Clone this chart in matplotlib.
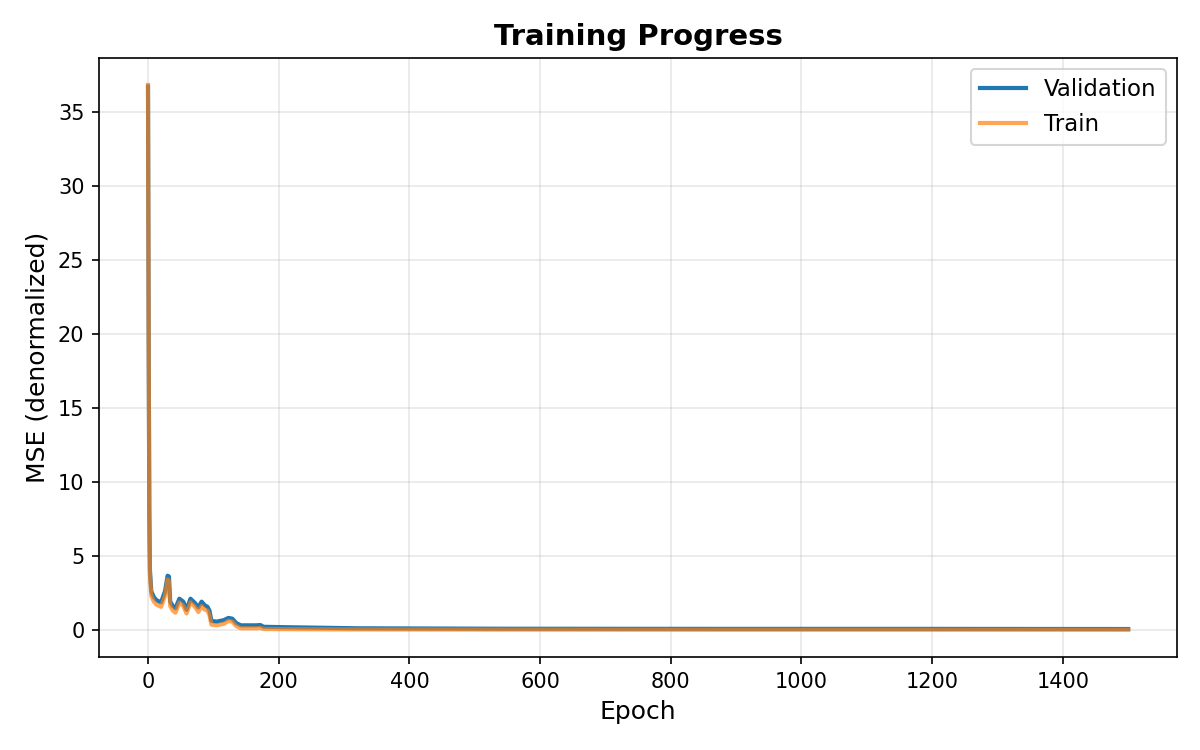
import matplotlib
matplotlib.use("Agg")
import matplotlib.pyplot as plt

# key points (epoch, MSE)
val_epochs = [0, 1, 2, 3, 5, 9, 13, 20, 26, 30, 32, 34, 38, 42, 48, 54, 59, 65, 72, 77, 82, 87, 91,
              94, 97, 105, 116, 123, 129, 135, 142, 166, 172, 177, 215, 320, 540, 860, 1180, 1500]
val_mse = [36.7, 20.0, 8.0, 4.0, 2.6, 2.2, 2.0, 1.85, 2.6, 3.65, 3.6, 1.9, 1.6, 1.45, 2.1, 1.9, 1.35, 2.1, 1.8,
           1.5, 1.9, 1.65, 1.55, 1.3, 0.6, 0.55, 0.65, 0.8, 0.75, 0.45, 0.3, 0.3, 0.32, 0.2, 0.17, 0.1,
           0.07, 0.06, 0.06, 0.05]

train_epochs = [0, 1, 2, 3, 5, 9, 13, 20, 26, 30, 32, 34, 38, 42, 48, 54, 59, 65, 72, 77, 82, 87, 91,
                94, 97, 105, 116, 123, 129, 135, 142, 166, 172, 177, 215, 320, 540, 860, 1180, 1500]
train_mse = [36.8, 19.5, 7.5, 3.7, 2.3, 1.9, 1.7, 1.55, 2.3, 3.4, 3.3, 1.6, 1.3, 1.15, 1.85, 1.6, 1.1, 1.85,
             1.55, 1.2, 1.6, 1.35, 1.3, 1.0, 0.35, 0.3, 0.4, 0.6, 0.55, 0.25, 0.1, 0.1, 0.12, 0.05, 0.04,
             0.02, 0.01, 0.0, 0.0, 0.0]

def main():
    fig, ax = plt.subplots(figsize=(8, 5), dpi=150)
    ax.plot(val_epochs, val_mse, color='#1f77b4', linewidth=2, label='Validation')
    ax.plot(train_epochs, train_mse, color='#ff7f0e', alpha=0.7, linewidth=2, label='Train')
    ax.set_xlabel('Epoch', fontsize=12)
    ax.set_ylabel('MSE (denormalized)', fontsize=12)
    ax.set_title('Training Progress', fontsize=14, fontweight='bold')
    ax.legend(fontsize=11)
    ax.grid(True, alpha=0.3)
    fig.subplots_adjust(left=0.0825, right=0.981, top=0.923, bottom=0.124)
    fig.savefig('out.png')


if __name__ == '__main__':
    main()
